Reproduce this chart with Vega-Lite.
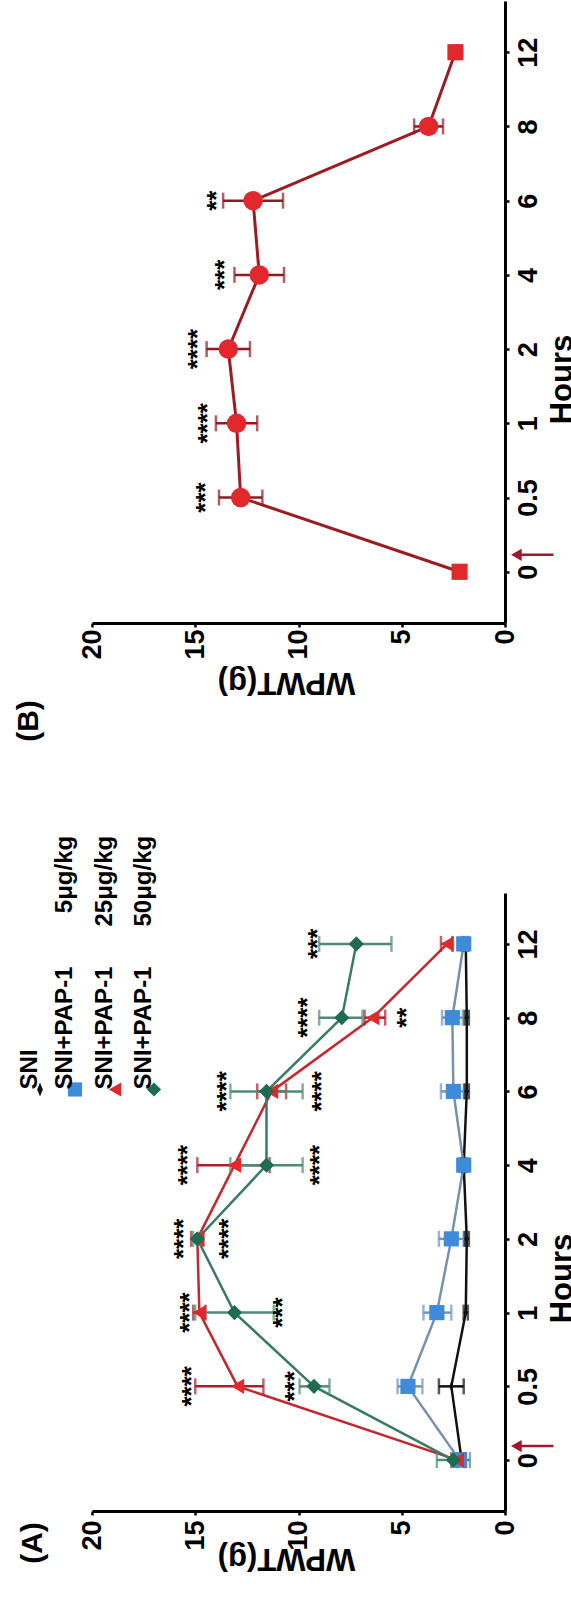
{
  "$schema": "https://vega.github.io/schema/vega-lite/v6.json",
  "background": "white",
  "padding": {"left": 14, "top": 1, "right": 0, "bottom": 40},
  "bounds": "flush",
  "spacing": 270,
  "config": {
    "view": {"stroke": null},
    "font": "Liberation Sans",
    "style": {"guide-label": {"angle": 270}},
    "axis": {
      "grid": false, "domainColor": "#000", "domainWidth": 3, "tickColor": "#000", "tickWidth": 2.5, "tickSize": 4,
      "labelFont": "Liberation Sans", "labelFontSize": 27, "labelFontWeight": "bold", "labelColor": "#000",
      "titleFont": "Liberation Sans", "titleFontSize": 31, "titleFontWeight": "bold", "titleColor": "#000"
    },
    "title": {"font": "Liberation Sans", "fontSize": 30, "fontWeight": "bold", "color": "#000"}
  },
  "datasets": {
    "B": [
      {"hour": "0", "mean": 2.2, "lo": 2.0, "hi": 2.4},
      {"hour": "0.5", "mean": 12.8, "lo": 11.75, "hi": 13.85},
      {"hour": "1", "mean": 13.0, "lo": 12.0, "hi": 14.0},
      {"hour": "2", "mean": 13.4, "lo": 12.35, "hi": 14.45},
      {"hour": "4", "mean": 11.9, "lo": 10.7, "hi": 13.1},
      {"hour": "6", "mean": 12.2, "lo": 10.75, "hi": 13.65},
      {"hour": "8", "mean": 3.7, "lo": 3.0, "hi": 4.4},
      {"hour": "12", "mean": 2.4, "lo": 2.3, "hi": 2.5}
    ],
    "Bstars": [
      {"hour": "0.5", "pos": 14.8, "stars": "***"},
      {"hour": "1", "pos": 14.7, "stars": "****"},
      {"hour": "2", "pos": 15.2, "stars": "****"},
      {"hour": "4", "pos": 13.9, "stars": "***"},
      {"hour": "6", "pos": 14.3, "stars": "**"}
    ],
    "A": [
      {"group": "SNI", "hour": "0", "mean": 2.1, "lo": 1.9, "hi": 2.3},
      {"group": "SNI", "hour": "0.5", "mean": 2.6, "lo": 2.0, "hi": 3.2},
      {"group": "SNI", "hour": "1", "mean": 1.9, "lo": 1.8, "hi": 2.0},
      {"group": "SNI", "hour": "2", "mean": 1.85, "lo": 1.75, "hi": 1.95},
      {"group": "SNI", "hour": "4", "mean": 2.0, "lo": 1.9, "hi": 2.1},
      {"group": "SNI", "hour": "6", "mean": 1.85, "lo": 1.75, "hi": 1.95},
      {"group": "SNI", "hour": "8", "mean": 1.85, "lo": 1.75, "hi": 1.95},
      {"group": "SNI", "hour": "12", "mean": 1.9, "lo": 1.8, "hi": 2.0},
      {"group": "SNI+PAP-1 5μg/kg", "hour": "0", "mean": 2.2, "lo": 2.0, "hi": 2.4},
      {"group": "SNI+PAP-1 5μg/kg", "hour": "0.5", "mean": 4.7, "lo": 4.0, "hi": 5.2},
      {"group": "SNI+PAP-1 5μg/kg", "hour": "1", "mean": 3.3, "lo": 2.6, "hi": 3.95},
      {"group": "SNI+PAP-1 5μg/kg", "hour": "2", "mean": 2.6, "lo": 2.0, "hi": 3.2},
      {"group": "SNI+PAP-1 5μg/kg", "hour": "4", "mean": 2.0, "lo": 1.8, "hi": 2.2},
      {"group": "SNI+PAP-1 5μg/kg", "hour": "6", "mean": 2.5, "lo": 2.0, "hi": 3.1},
      {"group": "SNI+PAP-1 5μg/kg", "hour": "8", "mean": 2.55, "lo": 2.05, "hi": 3.05},
      {"group": "SNI+PAP-1 5μg/kg", "hour": "12", "mean": 2.0, "lo": 1.85, "hi": 2.15},
      {"group": "SNI+PAP-1 25μg/kg", "hour": "0", "mean": 2.3, "lo": 2.0, "hi": 2.6},
      {"group": "SNI+PAP-1 25μg/kg", "hour": "0.5", "mean": 12.95, "lo": 11.7, "hi": 15.0},
      {"group": "SNI+PAP-1 25μg/kg", "hour": "1", "mean": 14.8, "lo": 14.5, "hi": 15.1},
      {"group": "SNI+PAP-1 25μg/kg", "hour": "2", "mean": 14.9, "lo": 14.6, "hi": 15.2},
      {"group": "SNI+PAP-1 25μg/kg", "hour": "4", "mean": 13.1, "lo": 11.4, "hi": 14.9},
      {"group": "SNI+PAP-1 25μg/kg", "hour": "6", "mean": 11.3, "lo": 10.6, "hi": 12.0},
      {"group": "SNI+PAP-1 25μg/kg", "hour": "8", "mean": 6.4, "lo": 5.8, "hi": 6.8},
      {"group": "SNI+PAP-1 25μg/kg", "hour": "12", "mean": 2.8, "lo": 2.55, "hi": 3.1},
      {"group": "SNI+PAP-1 50μg/kg", "hour": "0", "mean": 2.5, "lo": 1.7, "hi": 3.3},
      {"group": "SNI+PAP-1 50μg/kg", "hour": "0.5", "mean": 9.25, "lo": 8.5, "hi": 9.95},
      {"group": "SNI+PAP-1 50μg/kg", "hour": "1", "mean": 13.1, "lo": 11.2, "hi": 15.0},
      {"group": "SNI+PAP-1 50μg/kg", "hour": "2", "mean": 14.9, "lo": 14.7, "hi": 15.1},
      {"group": "SNI+PAP-1 50μg/kg", "hour": "4", "mean": 11.55, "lo": 9.8, "hi": 13.3},
      {"group": "SNI+PAP-1 50μg/kg", "hour": "6", "mean": 11.55, "lo": 9.8, "hi": 13.3},
      {"group": "SNI+PAP-1 50μg/kg", "hour": "8", "mean": 7.9, "lo": 6.9, "hi": 9.0},
      {"group": "SNI+PAP-1 50μg/kg", "hour": "12", "mean": 7.2, "lo": 5.5, "hi": 9.0}
    ],
    "Astars": [
      {"hour": "0.5", "pos": 15.5, "stars": "****"},
      {"hour": "0.5", "pos": 10.5, "stars": "***"},
      {"hour": "1", "pos": 15.6, "stars": "****"},
      {"hour": "1", "pos": 11.1, "stars": "***"},
      {"hour": "2", "pos": 15.9, "stars": "****"},
      {"hour": "2", "pos": 13.7, "stars": "****"},
      {"hour": "4", "pos": 15.7, "stars": "****"},
      {"hour": "4", "pos": 9.3, "stars": "****"},
      {"hour": "6", "pos": 13.8, "stars": "****"},
      {"hour": "6", "pos": 9.2, "stars": "****"},
      {"hour": "8", "pos": 9.9, "stars": "****"},
      {"hour": "8", "pos": 5.1, "stars": "**"},
      {"hour": "12", "pos": 9.4, "stars": "***"}
    ]
  },
  "vconcat": [
    {
      "width": 413,
      "height": 622,
      "title": {"text": "(B)", "orient": "bottom", "anchor": "start", "frame": "group", "angle": 270, "align": "center", "baseline": "middle", "offset": 24, "dy": -63},
      "data": {"name": "B"},
      "layer": [
        {
          "mark": {"type": "line", "color": "#9b1c24", "strokeWidth": 3},
          "encoding": {
            "y": {"field": "hour", "type": "ordinal", "title": "Hours", "scale": {"type": "point", "domain": ["12", "8", "6", "4", "2", "1", "0.5", "0"], "padding": 0.69},
              "axis": {"orient": "right", "title": "Hours", "labelAngle": 270, "labelAlign": "center", "labelBaseline": "top", "labelPadding": 6, "titleAngle": 270, "titleAlign": "center", "titleBaseline": "middle", "titleX": 57, "titleY": 378}},
            "x": {"field": "mean", "type": "quantitative", "title": "WPWT(g)", "scale": {"domain": [0, 20], "reverse": true, "nice": false, "zero": false},
              "axis": {"orient": "bottom", "values": [0, 5, 10, 15, 20], "title": "WPWT(g)", "labelAngle": 270, "labelAlign": "right", "labelBaseline": "middle", "labelPadding": 2, "titleAngle": 180, "titleAlign": "center", "titleBaseline": "middle", "titleX": 194, "titleY": 58}}
          }
        },
        {
          "mark": {"type": "errorbar", "color": "#8e1b22", "thickness": 2.5, "ticks": {"size": 16, "thickness": 2.5}},
          "encoding": {
            "y": {"field": "hour", "type": "ordinal", "title": "Hours"},
            "x": {"field": "lo", "type": "quantitative", "title": "WPWT(g)", "scale": {"domain": [0, 20], "reverse": true, "nice": false, "zero": false}},
            "x2": {"field": "hi"}
          }
        },
        {
          "mark": {"type": "point", "filled": true, "opacity": 1, "color": "#e0282d"},
          "encoding": {
            "y": {"field": "hour", "type": "ordinal", "title": "Hours"},
            "x": {"field": "mean", "type": "quantitative", "title": "WPWT(g)", "scale": {"domain": [0, 20], "reverse": true, "nice": false, "zero": false}},
            "shape": {"condition": {"test": "datum.hour === '0' || datum.hour === '12'", "value": "square"}, "value": "circle"},
            "size": {"condition": {"test": "datum.hour === '0' || datum.hour === '12'", "value": 260}, "value": 380}
          }
        },
        {
          "data": {"name": "Bstars"},
          "mark": {"type": "text", "angle": 270, "fontSize": 26, "fontWeight": "bold", "align": "center", "baseline": "middle", "dy": 7, "color": "#000"},
          "encoding": {
            "y": {"field": "hour", "type": "ordinal", "title": "Hours"},
            "x": {"field": "pos", "type": "quantitative", "title": "WPWT(g)", "scale": {"domain": [0, 20], "reverse": true, "nice": false, "zero": false}},
            "text": {"field": "stars"}
          }
        },
        {
          "data": {"values": [{}]},
          "mark": {"type": "rule", "color": "#a0182c", "strokeWidth": 2.5},
          "encoding": {
            "x": {"datum": -0.6, "type": "quantitative", "title": "WPWT(g)"},
            "x2": {"datum": -2.35},
            "y": {"datum": "0", "type": "ordinal", "title": "Hours"},
            "yOffset": {"value": -17}
          }
        },
        {
          "data": {"values": [{}]},
          "mark": {"type": "point", "shape": "triangle-left", "filled": true, "opacity": 1, "size": 150, "color": "#a0182c"},
          "encoding": {
            "x": {"datum": -0.55, "type": "quantitative", "title": "WPWT(g)"},
            "y": {"datum": "0", "type": "ordinal", "title": "Hours"},
            "yOffset": {"value": -17}
          }
        }
      ]
    },
    {
      "width": 413,
      "height": 618,
      "title": {"text": "(A)", "orient": "bottom", "anchor": "start", "frame": "group", "angle": 270, "align": "center", "baseline": "middle", "offset": -30, "dy": -59},
      "data": {"name": "A"},
      "resolve": {"scale": {"color": "independent", "shape": "independent"}},
      "layer": [
        {
          "mark": {"type": "line", "strokeWidth": 2.5},
          "encoding": {
            "y": {"field": "hour", "type": "ordinal", "title": "Hours", "scale": {"type": "point", "domain": ["12", "8", "6", "4", "2", "1", "0.5", "0"], "padding": 0.69},
              "axis": {"orient": "right", "title": "Hours", "labelAngle": 270, "labelAlign": "center", "labelBaseline": "top", "labelPadding": 6, "titleAngle": 270, "titleAlign": "center", "titleBaseline": "middle", "titleX": 57, "titleY": 385}},
            "x": {"field": "mean", "type": "quantitative", "title": "WPWT(g)", "scale": {"domain": [0, 20], "reverse": true, "nice": false, "zero": false},
              "axis": {"orient": "bottom", "values": [0, 5, 10, 15, 20], "title": "WPWT(g)", "labelAngle": 270, "labelAlign": "right", "labelBaseline": "middle", "labelPadding": 5, "titleAngle": 180, "titleAlign": "center", "titleBaseline": "middle", "titleX": 194, "titleY": 46}},
            "color": {"field": "group", "type": "nominal", "legend": null,
              "scale": {"domain": ["SNI", "SNI+PAP-1 5μg/kg", "SNI+PAP-1 25μg/kg", "SNI+PAP-1 50μg/kg"], "range": ["#111111", "#7890ad", "#c2282f", "#3a7b66"]}}
          }
        },
        {
          "mark": {"type": "errorbar", "thickness": 2.5, "ticks": {"size": 16, "thickness": 2.5}},
          "encoding": {
            "y": {"field": "hour", "type": "ordinal", "title": "Hours"},
            "x": {"field": "lo", "type": "quantitative", "title": "WPWT(g)", "scale": {"domain": [0, 20], "reverse": true, "nice": false, "zero": false}},
            "x2": {"field": "hi"},
            "color": {"field": "group", "type": "nominal", "legend": null,
              "scale": {"domain": ["SNI", "SNI+PAP-1 5μg/kg", "SNI+PAP-1 25μg/kg", "SNI+PAP-1 50μg/kg"], "range": ["#111111", "#6f93c2", "#a3222b", "#4f8a78"]}}
          }
        },
        {
          "mark": {"type": "point", "filled": true, "opacity": 1},
          "encoding": {
            "y": {"field": "hour", "type": "ordinal", "title": "Hours"},
            "x": {"field": "mean", "type": "quantitative", "title": "WPWT(g)", "scale": {"domain": [0, 20], "reverse": true, "nice": false, "zero": false}},
            "size": {"condition": {"test": "datum.group === 'SNI'", "value": 90}, "value": 230},
            "shape": {"field": "group", "type": "nominal",
              "scale": {"domain": ["SNI", "SNI+PAP-1 5μg/kg", "SNI+PAP-1 25μg/kg", "SNI+PAP-1 50μg/kg"], "range": ["M0,-1L0.4,0L0,1L-0.4,0Z", "square", "triangle-left", "diamond"]}},
            "color": {"field": "group", "type": "nominal",
              "scale": {"domain": ["SNI", "SNI+PAP-1 5μg/kg", "SNI+PAP-1 25μg/kg", "SNI+PAP-1 50μg/kg"], "range": ["#111111", "#3d8bd9", "#e0282d", "#1e6b4f"]},
              "legend": {"orient": "none", "legendX": -64, "legendY": 184, "direction": "horizontal", "title": null,
                "labelFont": "Liberation Sans", "labelFontSize": 24, "labelFontWeight": "bold", "labelColor": "#000", "labelLimit": 600,
                "labelAlign": "left", "labelBaseline": "middle", "labelOffset": -22,
                "symbolSize": 200, "columnPadding": 9,
                "labelExpr": "'\u00a0\u00a0\u00a0\u00a0\u00a0\u00a0\u00a0\u00a0\u00a0\u00a0\u00a0' + (datum.label == 'SNI+PAP-1 5μg/kg' ? 'SNI+PAP-1\u00a0\u00a0\u00a0\u00a0\u00a0\u00a0\u00a0\u00a05μg/kg' : replace(datum.label, 'PAP-1 ', 'PAP-1\u00a0\u00a0\u00a0\u00a0\u00a0\u00a0'))"}}
          }
        },
        {
          "data": {"name": "Astars"},
          "mark": {"type": "text", "angle": 270, "fontSize": 26, "fontWeight": "bold", "align": "center", "baseline": "middle", "dy": 7, "color": "#000"},
          "encoding": {
            "y": {"field": "hour", "type": "ordinal", "title": "Hours"},
            "x": {"field": "pos", "type": "quantitative", "title": "WPWT(g)", "scale": {"domain": [0, 20], "reverse": true, "nice": false, "zero": false}},
            "text": {"field": "stars"}
          }
        },
        {
          "data": {"values": [{}]},
          "mark": {"type": "rule", "color": "#a0182c", "strokeWidth": 2.5},
          "encoding": {
            "x": {"datum": -0.6, "type": "quantitative", "title": "WPWT(g)"},
            "x2": {"datum": -2.35},
            "y": {"datum": "0", "type": "ordinal", "title": "Hours"},
            "yOffset": {"value": -14}
          }
        },
        {
          "data": {"values": [{}]},
          "mark": {"type": "point", "shape": "triangle-left", "filled": true, "opacity": 1, "size": 150, "color": "#a0182c"},
          "encoding": {
            "x": {"datum": -0.55, "type": "quantitative", "title": "WPWT(g)"},
            "y": {"datum": "0", "type": "ordinal", "title": "Hours"},
            "yOffset": {"value": -14}
          }
        }
      ]
    }
  ]
}
